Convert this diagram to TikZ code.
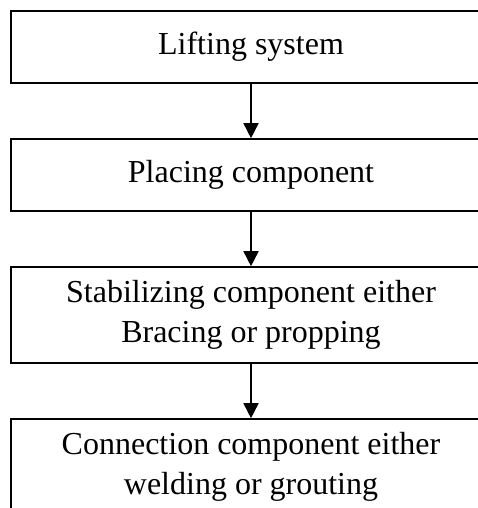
\documentclass[tikz,border=0pt]{standalone}
\usepackage{fontspec}
\setmainfont{Liberation Serif}
\usetikzlibrary{arrows.meta}
\begin{document}
\begin{tikzpicture}[x=1pt,y=-1pt,
  box/.style={draw=black, line width=1.6pt, rectangle, minimum width=480pt,
    inner sep=0pt, align=center, font=\fontsize{32}{40}\selectfont},
  flow/.style={line width=1.6pt, -{Triangle[width=15pt,length=15pt]}}]
\useasboundingbox (0,0) rectangle (478,508);
\node[box, minimum height=72pt] (b1) at (251,47) {Lifting system};
\node[box, minimum height=72pt] (b2) at (251,175) {Placing component};
\node[box, minimum height=96pt] (b3) at (251,315) {Stabilizing component either\\Bracing or propping};
\node[box, minimum height=96pt] (b4) at (251,467) {Connection component either\\welding or grouting};
\draw[flow] (b1) -- (b2);
\draw[flow] (b2) -- (b3);
\draw[flow] (b3) -- (b4);
\end{tikzpicture}
\end{document}
